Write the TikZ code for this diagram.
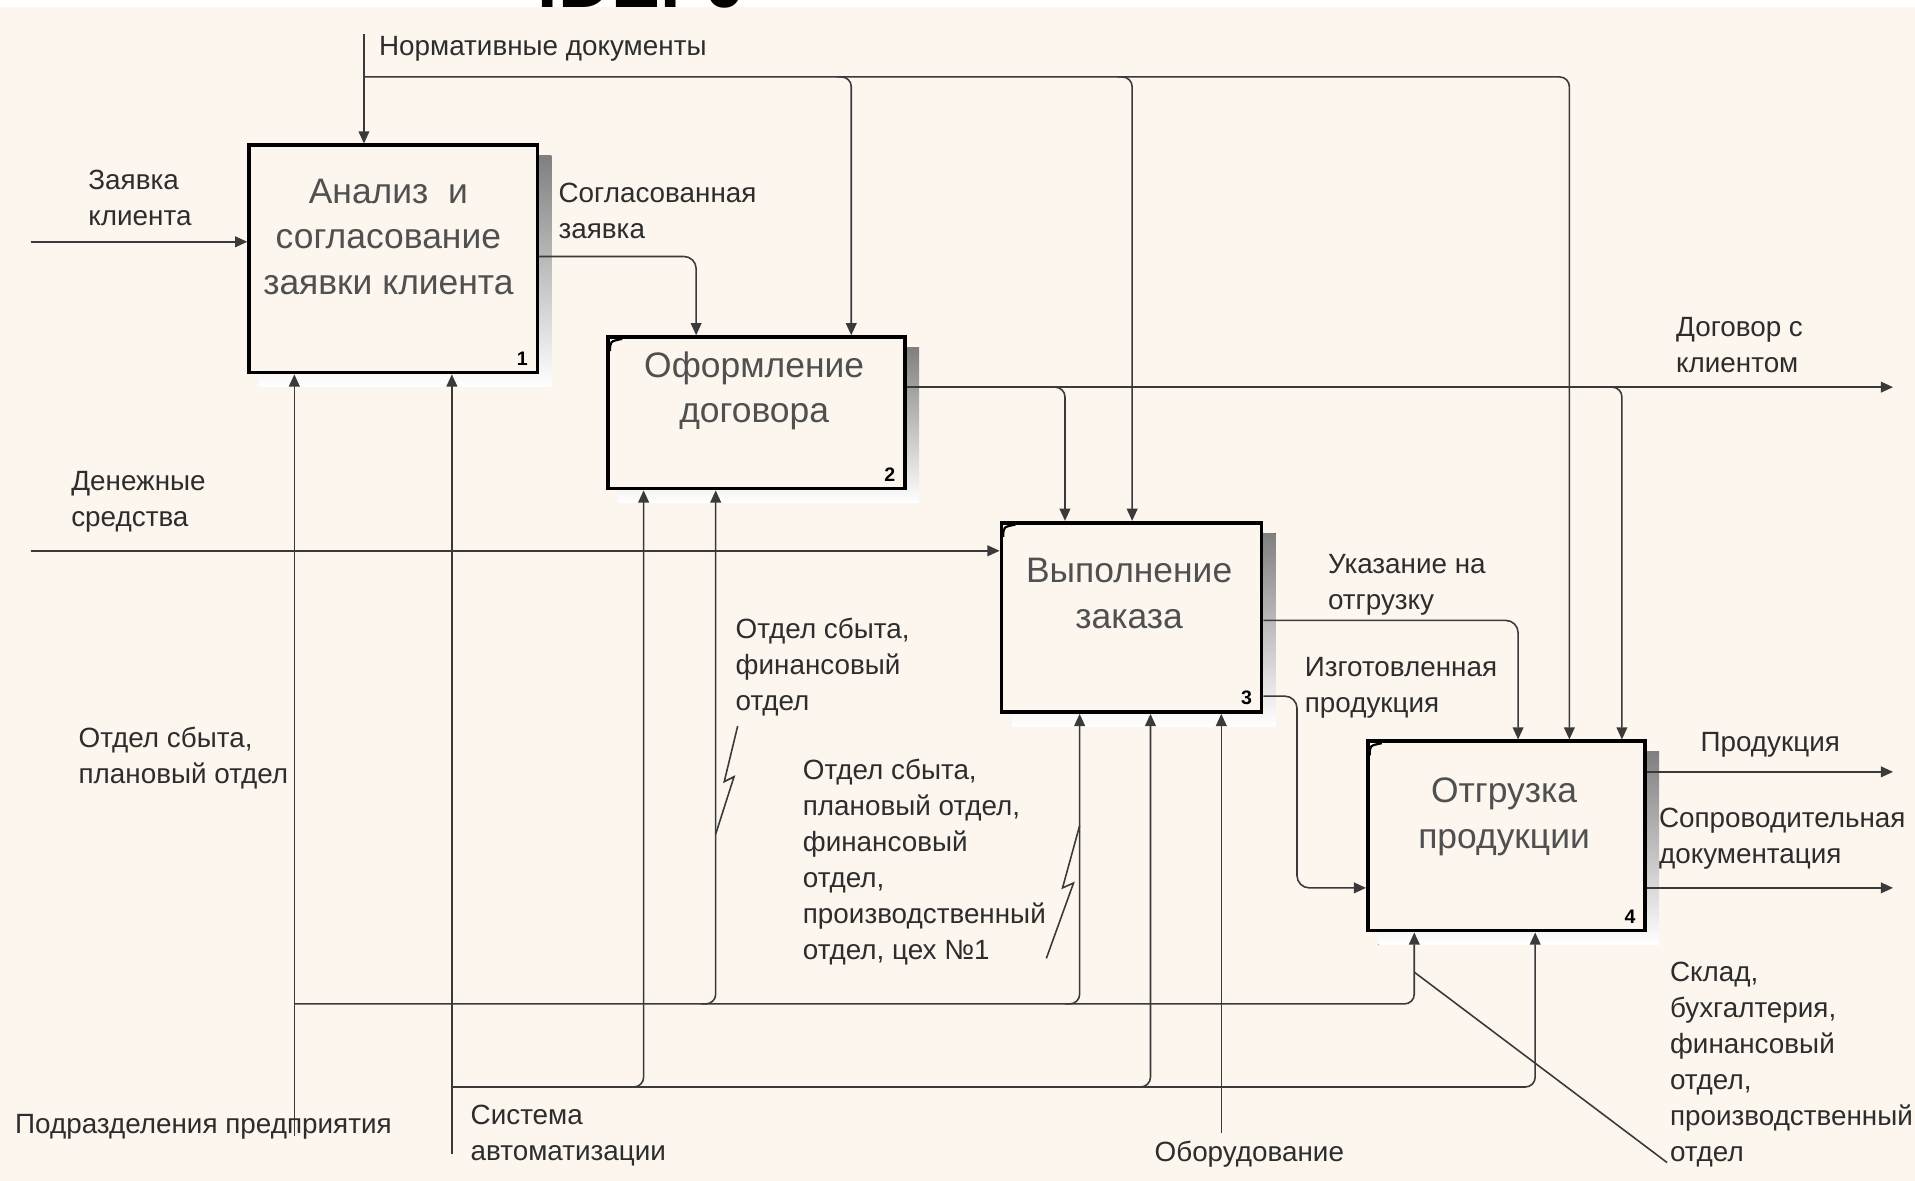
\documentclass[tikz,border=0pt]{standalone}
\usepackage{fontspec}
\setmainfont{Liberation Sans}
\usetikzlibrary{arrows.meta,calc,backgrounds}
\definecolor{paper}{RGB}{252,246,239}
\definecolor{wire}{RGB}{58,58,58}
\definecolor{ink}{RGB}{45,45,45}
\definecolor{boxink}{RGB}{80,80,80}
\definecolor{shade}{RGB}{165,163,160}
\newcommand{\lblsize}{\fontsize{11.4}{14.75}\selectfont}
\newcommand{\boxsize}{\fontsize{14.5}{18.75}\selectfont}
\tikzset{
  func/.style={draw=black, line width=1.5pt, fill=paper, inner sep=0pt},
  ftext/.style={font=\boxsize, text=boxink, align=center, inner sep=0pt},
  tag/.style={font=\bfseries\fontsize{8}{8}\selectfont, inner sep=0pt, anchor=south east},
  lbl/.style={font=\lblsize, text=ink, align=left, anchor=west, inner sep=0pt},
  ln/.style={draw=wire, line width=0.65pt},
  arr/.style={ln, -{Triangle[length=5pt,width=4.4pt]}},
  corner/.style={line width=0.9pt, draw=black}
}
\begin{document}
\begin{tikzpicture}[x=0.5pt,y=0.5pt,yscale=-1]
\useasboundingbox (0,0) rectangle (1568,967);

%Shape: Rectangle -- functions
\node[func, minimum width=118pt, minimum height=93pt] (a1) at (322,212) {};
\node[func, minimum width=121.5pt, minimum height=62pt] (a2) at (619.5,338) {};
\node[func, minimum width=106.5pt, minimum height=77.5pt] (a3) at (926.5,505.5) {};
\node[func, minimum width=113.5pt, minimum height=77.5pt] (a4) at (1233.5,684.5) {};

% paper and shadows
\begin{scope}[on background layer]
\fill[paper] (0,0) rectangle (1568,967);
\foreach \b in {a1,a2,a3,a4}
  \fill[shade] ($(\b.north west)+(10,10)$) rectangle ($(\b.south east)+(10,10)$);
\end{scope}

% cut title at the top
\begin{scope}
\clip (0,0) rectangle (1568,6);
\fill[white] (0,0) rectangle (1568,6);
\node[font=\bfseries\fontsize{30}{30}\selectfont, anchor=base west, inner sep=0pt] (ttl) at (440,6) {IDEF0};
\end{scope}

% Text Node -- function names
\node[ftext] (t1) at ($(a1.north)+(-4,76.5)$) {Анализ\ \ и\\согласование\\заявки клиента};
\node[ftext] (t2) at ($(a2.north)+(-2,45.5)$) {Оформление\\договора};
\node[ftext] (t3) at ($(a3.north)+(-2,59.5)$) {Выполнение\\заказа};
\node[ftext] (t4) at ($(a4.north)+(-2,63.5)$) {Отгрузка\\продукции};
\node[tag] (n1) at ($(a1.south east)+(-9,-7)$) {1};
\node[tag] (n2) at ($(a2.south east)+(-9,-7)$) {2};
\node[tag] (n3) at ($(a3.south east)+(-9,-7)$) {3};
\node[tag] (n4) at ($(a4.south east)+(-9,-7)$) {4};
\foreach \b in {a2,a3,a4}
  \draw[corner] ($(\b.north west)+(3,13)$) .. controls ($(\b.north west)+(3,5)$) .. ($(\b.north west)+(13,3)$);

%Straight Lines -- inputs
\coordinate (zk) at (25,198);
\draw[arr] (zk) -- (zk -| a1.west);
\coordinate (ds) at (25,451);
\draw[arr] (ds) -- (ds -| a3.west);

%Straight Lines -- controls
\coordinate (nd0) at (298,28);
\coordinate (nd1) at (298,63);
\coordinate (nd2) at (697,63);
\coordinate (nd3) at (927,63);
\coordinate (nd4) at (1285,63);
\draw[arr] (nd0) -- (nd0 |- a1.north);
\draw[arr, rounded corners=4pt] (nd1) -- (nd4) -- (nd4 |- a4.north);
\draw[arr, rounded corners=4pt] ($(nd2)+(-12,0)$) -- (nd2) -- (nd2 |- a2.north);
\draw[arr, rounded corners=4pt] ($(nd3)+(-12,0)$) -- (nd3) -- (nd3 |- a3.north);

\coordinate (sz) at (570,210);
\draw[arr, rounded corners=5pt] (sz -| a1.east) -- (sz) -- (sz |- a2.north);

\coordinate (dk) at (1550,317);
\coordinate (dk1) at (872,317);
\coordinate (dk2) at (1328,317);
\draw[arr] (dk -| a2.east) -- (dk);
\draw[arr, rounded corners=4pt] ($(dk1)+(-12,0)$) -- (dk1) -- (dk1 |- a3.north);
\draw[arr, rounded corners=4pt] ($(dk2)+(-12,0)$) -- (dk2) -- (dk2 |- a4.north);

\coordinate (uo) at (1243,508);
\draw[arr, rounded corners=5pt] (uo -| a3.east) -- (uo) -- (uo |- a4.north);

\coordinate (ip1) at (1062,570);
\coordinate (ip2) at (1062,727);
\draw[arr, rounded corners=5pt] (ip1 -| a3.east) -- (ip1) -- (ip2) -- (ip2 -| a4.west);

%Straight Lines -- outputs
\coordinate (pr) at (1550,632);
\draw[arr] (pr -| a4.east) -- (pr);
\coordinate (sd) at (1550,727);
\draw[arr] (sd -| a4.east) -- (sd);

%Straight Lines -- mechanisms
\coordinate (pp) at (241,930);
\coordinate (pp0) at (241,822);
\coordinate (pp2) at (586,822);
\coordinate (pp3) at (884,822);
\coordinate (pp4) at (1158,822);
\draw[arr] (pp) -- (pp |- a1.south);
\draw[arr, rounded corners=4pt] (pp0) -- (pp4) -- (pp4 |- a4.south);
\draw[arr, rounded corners=4pt] ($(pp2)+(-12,0)$) -- (pp2) -- (pp2 |- a2.south);
\draw[arr, rounded corners=4pt] ($(pp3)+(-12,0)$) -- (pp3) -- (pp3 |- a3.south);

\coordinate (sa) at (370,945);
\coordinate (sa0) at (370,890);
\coordinate (sa2) at (527,890);
\coordinate (sa3) at (942,890);
\coordinate (sa4) at (1257,890);
\draw[arr] (sa) -- (sa |- a1.south);
\draw[arr, rounded corners=4pt] (sa0) -- (sa4) -- (sa4 |- a4.south);
\draw[arr, rounded corners=4pt] ($(sa2)+(-12,0)$) -- (sa2) -- (sa2 |- a2.south);
\draw[arr, rounded corners=4pt] ($(sa3)+(-12,0)$) -- (sa3) -- (sa3 |- a3.south);

\coordinate (ob) at (1000,928);
\draw[arr] (ob) -- (ob |- a3.south);

% Text Node -- arrow labels
\node[lbl] (lnd) at (310,40) {Нормативные документы};
\node[lbl] (lzk) at (72,162) {Заявка\\клиента};
\node[lbl] (lsz) at (457,173) {Согласованная\\заявка};
\node[lbl] (ldk) at (1372,282.5) {Договор с\\клиентом};
\node[lbl] (lds) at (58,411) {Денежные\\средства};
\node[lbl] (luo) at (1087,478.5) {Указание на\\отгрузку};
\node[lbl] (lip) at (1068,563) {Изготовленная\\продукция};
\node[lbl] (lm2) at (602,546) {Отдел сбыта,\\финансовый\\отдел};
\node[lbl] (lm1) at (64,621) {Отдел сбыта,\\плановый отдел};
\node[lbl] (lpr) at (1392,610) {Продукция};
\node[lbl] (lsd) at (1358,687) {Сопроводительная\\документация};
\node[lbl] (lm3) at (657,706) {Отдел сбыта,\\плановый отдел,\\финансовый\\отдел,\\производственный\\отдел, цех №1};
\node[lbl] (lm4) at (1367,871.5) {Склад,\\бухгалтерия,\\финансовый\\отдел,\\производственный\\отдел};
\node[lbl] (lpp) at (12,923) {Подразделения предприятия};
\node[lbl] (lsa) at (385,930) {Система\\автоматизации};
\node[lbl] (lob) at (945,945) {Оборудование};

% squiggles
\draw[ln] ($(lm2.south west)+(2,8)$) -- (593,640) -- (601,636) -- (pp2 |- 0,683);
\draw[ln] (pp3 |- 0,676) -- (870,727) -- (879,723) -- ($(lm3.south east)+(0,-6)$);
\draw[ln] (pp4 |- 0,796) -- ($(lm4.south west)+(-2,-4)$);

\end{tikzpicture}
\end{document}
